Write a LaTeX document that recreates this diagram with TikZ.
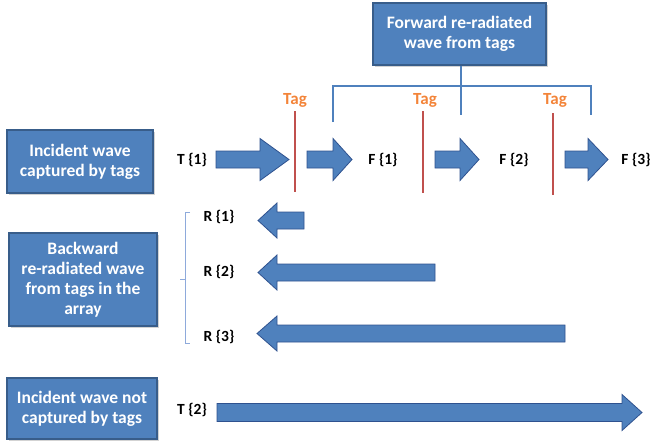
\documentclass[tikz,border=0pt]{standalone}
\usepackage{fontspec}
\setmainfont{Carlito}
\usetikzlibrary{shadows}
\definecolor{boxfill}{HTML}{4F81BD}
\definecolor{boxline}{HTML}{385D8A}
\definecolor{arrline}{HTML}{2F528F}
\definecolor{tagred}{HTML}{C0504D}
\definecolor{tagorange}{HTML}{F38439}
\definecolor{brackblue}{HTML}{4F81BD}
\definecolor{lightbrack}{HTML}{8EAADB}
\tikzset{
  infobox/.style={draw=boxline, line width=1.2pt, fill=boxfill, text=white,
    font=\fontsize{17.5}{20}\selectfont\bfseries, align=center, inner sep=0pt,
    drop shadow={shadow xshift=1.5pt, shadow yshift=-1.5pt, opacity=0.35}},
  lbl/.style={font=\fontsize{15.5}{17}\selectfont\bfseries, inner sep=0pt},
  taglbl/.style={font=\fontsize{17}{19}\selectfont\bfseries, text=tagorange, inner sep=0pt},
  tagline/.style={draw=tagred, line width=2pt},
  barrow/.style={fill=boxfill, draw=arrline, line width=0.8pt, line join=miter},
  fwdbracket/.style={draw=brackblue, line width=1.3pt},
  backbracket/.style={draw=lightbrack, line width=0.8pt}
}
% right-pointing block arrow: x0, xhead, xtip, ycenter, body half, head half
\newcommand\rblockarrow[6]{%
  \path[barrow] ({#1},{#4-#5}) -- ({#2},{#4-#5}) -- ({#2},{#4-#6}) -- ({#3},{#4})
    -- ({#2},{#4+#6}) -- ({#2},{#4+#5}) -- ({#1},{#4+#5}) -- cycle;}
\begin{document}
\begin{tikzpicture}[x=1pt,y=-1pt]
\useasboundingbox (0,0) rectangle (655,442);

% boxes
\node[infobox, minimum width=173pt, minimum height=62pt] (fwd) at (459.5,34) {Forward re-radiated\\wave from tags};
\node[infobox, minimum width=146pt, minimum height=63pt] (inc) at (80,161.5) {Incident wave\\captured by tags};
\node[infobox, minimum width=148pt, minimum height=93pt] (back) at (83,279.5) {Backward\\re-radiated wave\\from tags in the\\array};
\node[infobox, minimum width=150pt, minimum height=61pt] (notc) at (82,408.5) {Incident wave not\\captured by tags};

% forward bracket
\coordinate (bl) at (333,122);
\coordinate (bm) at (461,115);
\coordinate (br) at (591,115);
\draw[fwdbracket] (bl) -- (bl |- 0,86) -- (br |- 0,86) -- (br);
\draw[fwdbracket] (fwd.south -| bm) -- (bm);

% tags
\coordinate (t1a) at (295,111); \coordinate (t1b) at (295,192);
\coordinate (t2a) at (423,111); \coordinate (t2b) at (423,193);
\coordinate (t3a) at (553,113); \coordinate (t3b) at (553,195);
\draw[tagline] (t1a) -- (t1b);
\draw[tagline] (t2a) -- (t2b);
\draw[tagline] (t3a) -- (t3b);
\node[taglbl] (tag1) at (295,100) {Tag};
\node[taglbl] (tag2) at (425,100) {Tag};
\node[taglbl] (tag3) at (555,100) {Tag};

% forward row
\node[lbl] (T1) at (192,160) {T \{1\}};
\node[lbl] (F1) at (383,160) {F \{1\}};
\node[lbl] (F2) at (514,160) {F \{2\}};
\node[lbl] (F3) at (636,160) {F \{3\}};
\rblockarrow{216}{260}{289}{159.5}{8.5}{21}
\rblockarrow{307}{333}{352}{159.5}{8.5}{21}
\rblockarrow{435}{460}{479}{159.5}{8.5}{21}
\rblockarrow{565}{588}{608}{159.5}{8.5}{21}

% backward bracket
\coordinate (kt) at (185,212);
\coordinate (kb) at (185,343);
\coordinate (km) at (185,279);
\draw[backbracket] (190,212) -- (kt) -- (kb) -- (190,343);
\draw[backbracket] (km) -- (180,279);

% backward row
\node[lbl] (R1) at (219,217) {R \{1\}};
\node[lbl] (R2) at (219,272) {R \{2\}};
\node[lbl] (R3) at (219,337) {R \{3\}};
\rblockarrow{304}{277}{258}{220.5}{8.5}{17.5}
\rblockarrow{435}{277}{258}{272.5}{8.5}{17.5}
\rblockarrow{565}{277}{257}{333.5}{8.5}{17.5}

% not captured
\node[lbl] (T2) at (192,410) {T \{2\}};
\rblockarrow{217}{622}{642}{412.5}{9}{18}
\end{tikzpicture}
\end{document}
